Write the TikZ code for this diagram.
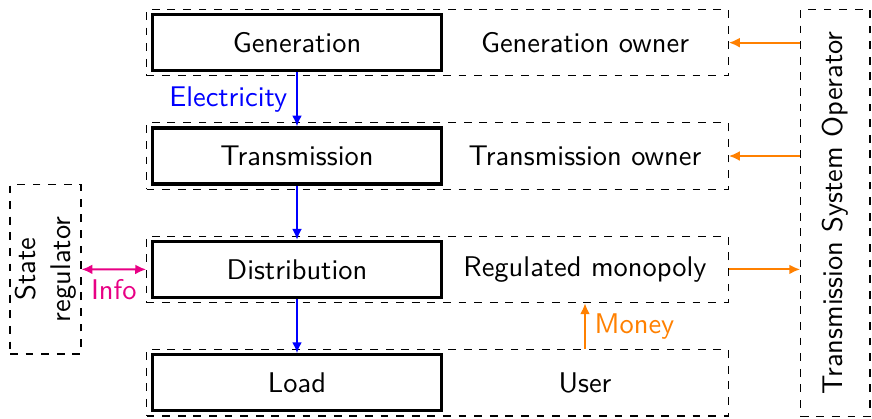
\documentclass[tikz,border=0pt]{standalone}
\usetikzlibrary{arrows.meta}
\definecolor{infopink}{RGB}{232,0,132}
\definecolor{moneyorange}{RGB}{255,128,0}
\definecolor{elecblue}{RGB}{0,0,255}
\begin{document}
\begin{tikzpicture}[x=0.38462pt, y=-0.38462pt,
  font=\fontsize{10.95}{13.6}\selectfont\sffamily,
  stagebox/.style={draw, line width=1.2pt, minimum width=110.9pt, minimum height=21.5pt, inner sep=0pt},
  rolebox/.style={inner sep=0pt},
  rowbox/.style={draw, dashed, thin, minimum width=223.7pt, minimum height=25.58pt, inner sep=0pt},
  sidebox/.style={draw, dashed, thin, inner sep=0pt, align=center},
  flow/.style={-{Latex[length=4.2pt,width=3.8pt]}, thick},
  both/.style={{Latex[length=4.2pt,width=3.8pt]}-{Latex[length=4.2pt,width=3.8pt]}, thick}]
\useasboundingbox (0,0) rectangle (872,418);
% dashed rows
\node[rowbox] (row1) at (437.5,42.65) {};
\node[rowbox] (row2) at (437.5,156.0) {};
\node[rowbox] (row3) at (437.5,269.4) {};
\node[rowbox] (row4) at (437.5,382.75) {};
% stages
\node[stagebox] (gen) at (297,42.65) {Generation};
\node[stagebox] (tra) at (297,156.0) {Transmission};
\node[stagebox] (dis) at (297,269.4) {Distribution};
\node[stagebox] (loa) at (297,382.75) {Load};
% roles
\node[rolebox] (own1) at (585,42.65) {Generation owner};
\node[rolebox] (own2) at (585,156.0) {Transmission owner};
\node[rolebox] (own3) at (585,269.4) {Regulated monopoly};
\node[rolebox] (own4) at (585,382.75) {User};
% side boxes
\node[sidebox, minimum width=26.65pt, minimum height=156.5pt] (tso) at (835.35,213) {};
\node[rotate=90] (tsotext) at (tso.center) {Transmission System Operator};
\node[sidebox, minimum width=27.3pt, minimum height=65.1pt] (sr) at (45.5,269.35) {};
\node[rotate=90, align=center] (srtext) at (sr.center) {State\\regulator};
% electricity flow
\draw[flow, elecblue] (gen.south) -- node[left, text=elecblue] (elec) {Electricity} (tra.north);
\draw[flow, elecblue] (tra.south) -- (dis.north);
\draw[flow, elecblue] (dis.south) -- (loa.north);
% TSO links
\draw[flow, moneyorange] (tso.west |- row1.east) -- (row1.east);
\draw[flow, moneyorange] (tso.west |- row2.east) -- (row2.east);
\draw[flow, moneyorange] (row3.east) -- (tso.west |- row3.east);
% money
\draw[flow, moneyorange] (own4 |- row4.north) -- node[right, text=moneyorange] (money) {Money} (own4 |- row3.south);
% info
\draw[both, infopink] (sr.east) -- node[below, text=infopink] (info) {Info} (row3.west);
\end{tikzpicture}
\end{document}
